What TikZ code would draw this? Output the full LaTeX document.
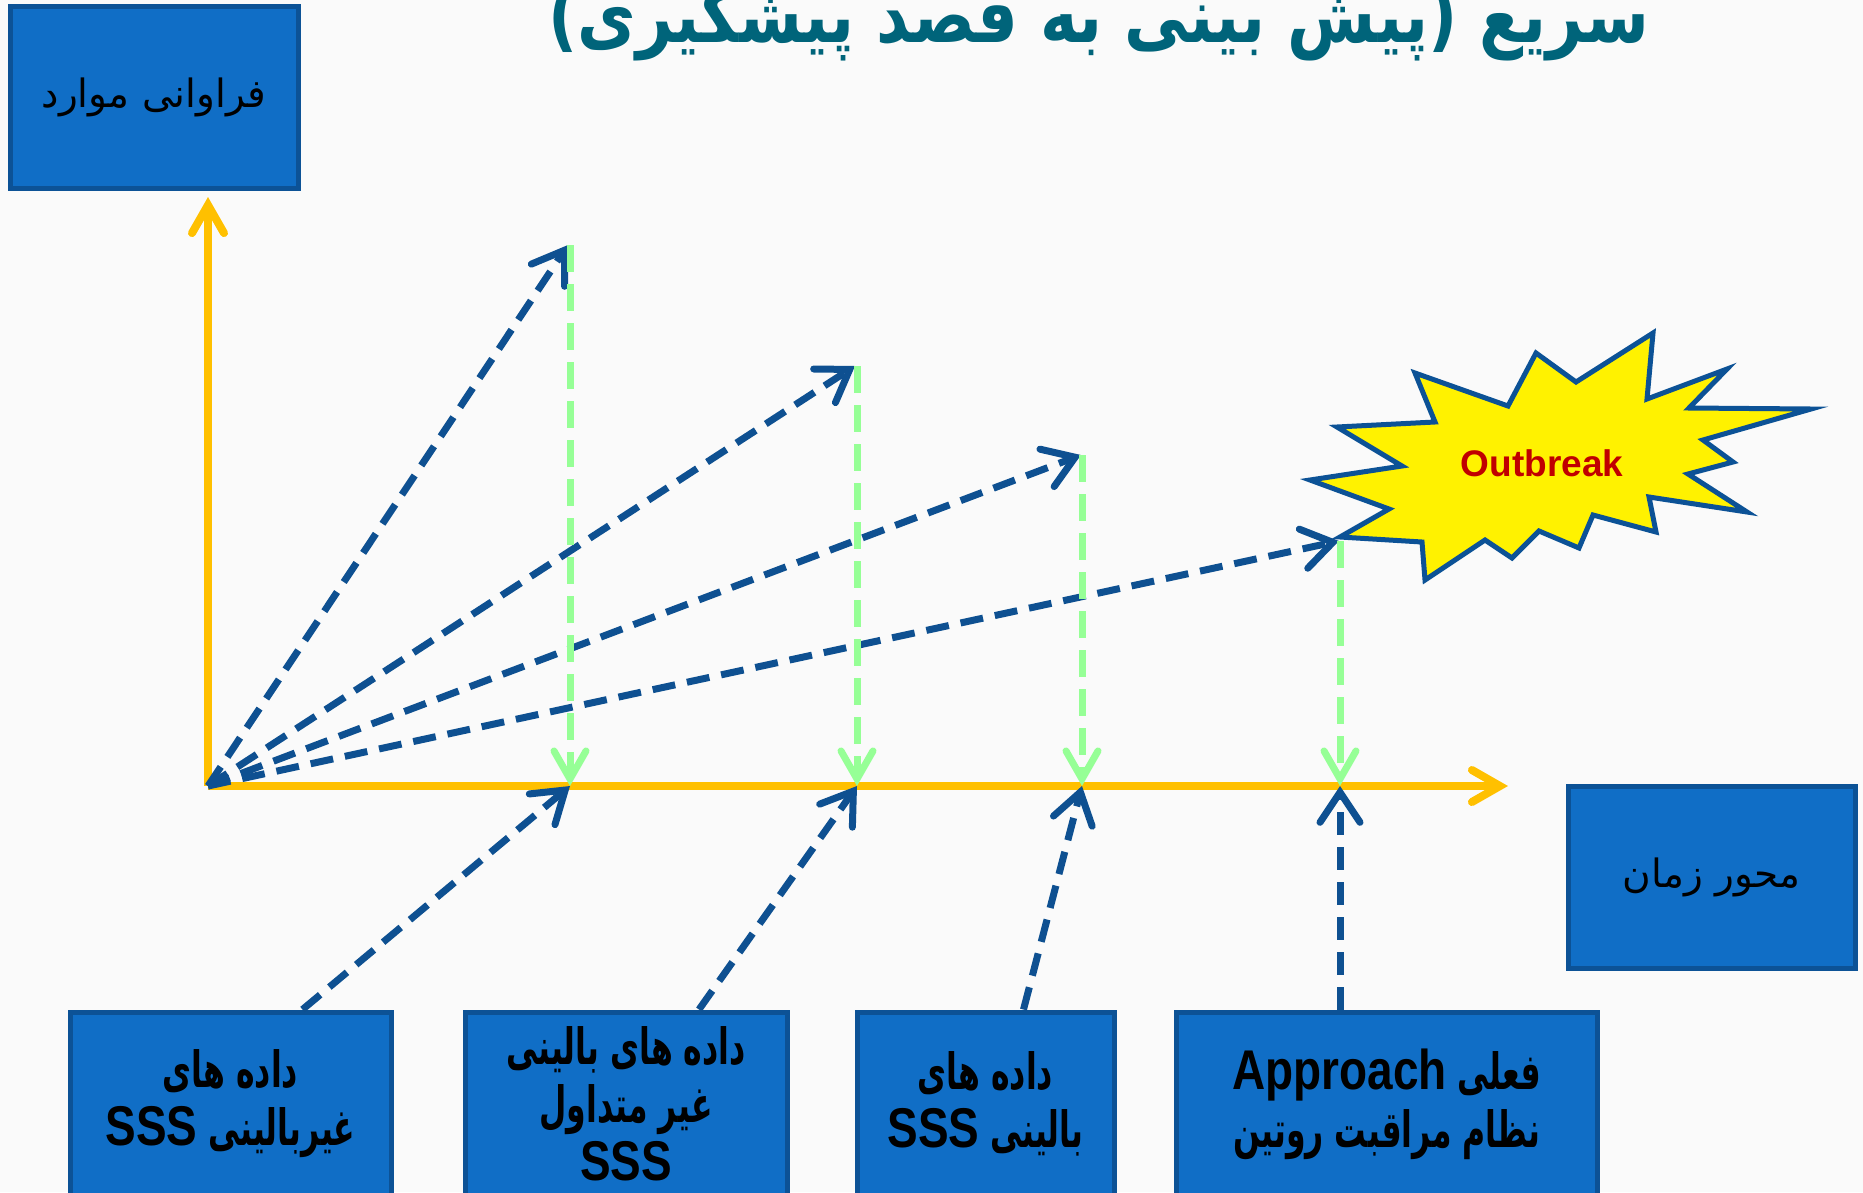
\documentclass[tikz,border=0pt]{standalone}
\usepackage{fontspec}
\setmainfont{Liberation Sans}
\newfontfamily\farsi[Script=Arabic]{DejaVu Sans}
\newfontfamily\farsinarrow[Script=Arabic,FakeStretch=0.63]{DejaVu Sans}
\newfontfamily\farsititle[Script=Arabic,FakeStretch=0.84]{DejaVu Sans}
\newfontfamily\latinnarrow[FakeStretch=0.82,Scale=1.12]{Liberation Sans}
\TeXXeTstate=1
\usetikzlibrary{arrows.meta,positioning}

\definecolor{pagebg}{RGB}{250,250,250}
\definecolor{boxfill}{RGB}{16,110,198}
\definecolor{boxline}{RGB}{12,82,150}
\definecolor{arrowblue}{RGB}{14,80,145}
\definecolor{greenline}{RGB}{150,255,150}
\definecolor{axisyellow}{RGB}{255,192,0}
\definecolor{titleteal}{RGB}{0,100,122}
\definecolor{outred}{RGB}{192,0,0}

\newcommand{\rtlline}[1]{{\farsi\beginR #1\endR}}
\newcommand{\rtlnarrow}[1]{{\farsinarrow\beginR #1\endR}}
\newcommand{\ltrword}[1]{{\latinnarrow\beginL #1\endL}}

\begin{document}
\begin{tikzpicture}[x=1pt, y=-1pt,
    infobox/.style={draw=boxline, line width=5pt, fill=boxfill, inner sep=0pt, align=center},
    sidelabel/.style={infobox, minimum height=182pt, font=\fontsize{39}{44}\selectfont},
    sourcebox/.style={infobox, minimum height=184pt, font=\bfseries\fontsize{50}{58}\selectfont},
    axisline/.style={axisyellow, line width=8pt, -{Straight Barb[length=28pt,width=32pt,line cap=round]}},
    signal/.style={arrowblue, line width=7pt, dash pattern=on 23pt off 12pt, -{Straight Barb[length=30pt,width=40pt,line cap=round]}},
    detect/.style={greenline, line width=7pt, dash pattern=on 27pt off 12pt, -{Straight Barb[length=28pt,width=32pt,line cap=round]}}]
    \fill[pagebg] (0,0) rectangle (1863,1192);
    \useasboundingbox (0,0) rectangle (1863,1192);
    \clip (0,0) rectangle (1863,1192);

    % title, cut at the top edge
    \node (title) [anchor=base, text=titleteal, font=\bfseries\fontsize{76}{80}\selectfont]
        at (1099,42) {{\farsititle\beginR سریع (پیش بینی به قصد پیشگیری)\endR}};

    % axis labels
    \node (freq) [sidelabel, minimum width=288pt] at (154,97) {\rtlline{فراوانی موارد}};
    \node (time) [sidelabel, minimum width=287pt] at (1711.5,877) {\rtlline{محور زمان}};

    % axes
    \coordinate (o) at (208,786);
    \draw [axisline] (o) -- (208,197);
    \draw [axisline] (o) -- (1508,786);

    % outbreak
    \draw [boxline, line width=5pt, fill=yellow, line join=miter]
        (1337,427) -- (1435,422) -- (1415,373) -- (1508,406) -- (1536,353) -- (1576,382)
        -- (1653,333) -- (1647,399) -- (1727,369) -- (1689,408) -- (1811,409) -- (1703,440)
        -- (1733,462) -- (1688,474) -- (1747,512) -- (1649,497) -- (1656,532) -- (1593,515)
        -- (1579,548) -- (1539,531) -- (1512,558) -- (1485,540) -- (1425,580) -- (1422,542)
        -- (1340,537) -- (1389,509) -- (1310,480) -- (1402,466) -- cycle;
    \node (outbreak) [text=outred, font=\bfseries\fontsize{37}{40}\selectfont] at (1542,463) {Outbreak};

    % peaks and ticks
    \coordinate (peak1) at (568,245);
    \coordinate (peak2) at (855,366);
    \coordinate (peak3) at (1081,455);
    \coordinate (peak4) at (1339,541);
    \coordinate (t1) at (570,786);
    \coordinate (t2) at (857,786);
    \coordinate (t3) at (1082,786);
    \coordinate (t4) at (1340,786);

    % data sources
    \node (src1) [sourcebox, minimum width=321pt] at (230.5,1104)
        {\rtlnarrow{داده های}\\\rtlnarrow{غیربالینی \ltrword{SSS}}};
    \node (src2) [sourcebox, minimum width=322pt] at (626,1104)
        {\rtlnarrow{داده های بالینی}\\\rtlnarrow{غیر متداول}\\\ltrword{SSS}};
    \node (src3) [sourcebox, minimum width=257pt] at (985.5,1104)
        {\rtlnarrow{داده های}\\\rtlnarrow{بالینی \ltrword{SSS}}};
    \node (src4) [sourcebox, minimum width=421pt] at (1386.5,1104)
        {\rtlnarrow{فعلی \ltrword{Approach}}\\\rtlnarrow{نظام مراقبت روتین}};

    % signals from the origin
    \draw [signal] (o) -- (peak1);
    \draw [signal] (o) -- (peak2);
    \draw [signal] (o) -- (peak3);
    \draw [signal] (o) -- (peak4);

    % detection drops
    \draw [detect] (peak1 -| t1) -- (t1);
    \draw [detect] (peak2 -| t2) -- (t2);
    \draw [detect] (peak3 -| t3) -- (t3);
    \draw [detect] (peak4 -| t4) -- (t4);

    % sources to the time axis
    \draw [signal] ([xshift=72pt]src1.north) -- (t1);
    \draw [signal] ([xshift=73pt]src2.north) -- (t2);
    \draw [signal] ([xshift=38pt]src3.north) -- (t3);
    \draw [signal] (t4 |- src4.north) -- (t4);
\end{tikzpicture}
\end{document}
